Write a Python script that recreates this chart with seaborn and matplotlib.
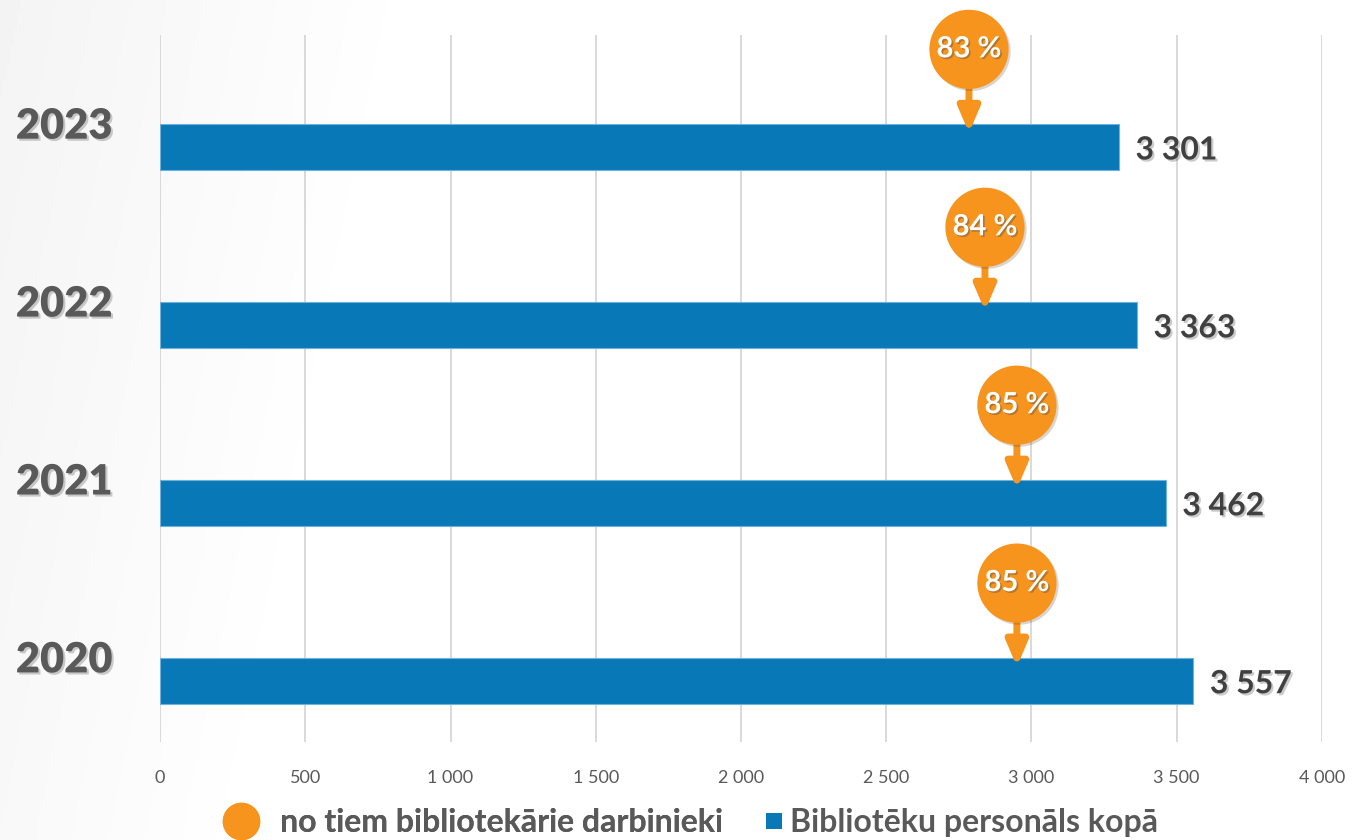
import numpy as np
import pandas as pd
import matplotlib
matplotlib.use("Agg")
import matplotlib.pyplot as plt
import matplotlib.patheffects as pe
from matplotlib.lines import Line2D
import seaborn as sns

years = ["2023", "2022", "2021", "2020"]
total_staff = [3301, 3363, 3462, 3557]
librarians = [2785, 2840, 2950, 2950]
share_labels = ["83 %", "84 %", "85 %", "85 %"]
xticks = [0, 500, 1000, 1500, 2000, 2500, 3000, 3500, 4000]

legend_dot = "no tiem bibliotekārie darbinieki"
legend_bar = "Bibliotēku personāls kopā"

BLUE = "#0878b6"
ORANGE = "#f7941d"
GREY = "#595959"
DARK = "#404040"
FONT = "Lato"

df = pd.DataFrame({"year": years, "total": total_staff})

sns.set_theme(style="white")
plt.rcParams["font.family"] = [FONT, "DejaVu Sans"]

fig = plt.figure(figsize=(13.53, 8.4), dpi=100)

# soft grey gradient background on the left
bg = fig.add_axes([0, 0, 1, 1], zorder=-5)
gx = np.linspace(0, 1, 400)
gy = np.linspace(0, 1, 200)[:, None]
grad = np.clip(0.955 + 0.045 * (gx[None, :] * 3.2 + gy * 0.4), 0, 1)
bg.imshow(grad, cmap="gray", vmin=0, vmax=1, aspect="auto", extent=[0, 1, 0, 1])
bg.axis("off")

ax = fig.add_axes([0.1183, 0.1167, 0.977 - 0.1183, 0.958 - 0.1167])
ax.patch.set_alpha(0)

sns.barplot(data=df, y="year", x="total", orient="h", order=years,
            color=BLUE, width=0.26, saturation=1, ax=ax,
            edgecolor="#6fb1da", linewidth=0.8, zorder=2)

ax.set_xlim(0, 4000)
ax.set_ylim(3.343, -0.629)
ax.set_xticks(xticks, [f"{v:,}".replace(",", " ") for v in xticks])
ax.set_yticks(np.arange(len(years)) - 0.135, years)
ax.grid(axis="x", color="#d9d9d9", lw=1.4, zorder=0)
ax.grid(axis="y", visible=False)
for s in ax.spines.values():
    s.set_visible(False)
ax.set_xlabel("")
ax.set_ylabel("")
ax.tick_params(axis="x", length=0, pad=20, labelsize=13, labelcolor=GREY)
ax.tick_params(axis="y", length=0, pad=34, labelsize=30, labelcolor=GREY)
shadow = [pe.SimplePatchShadow(offset=(1.5, -1.5), alpha=0.22), pe.Normal()]
for lab in ax.get_yticklabels():
    lab.set_fontweight("heavy")
    lab.set_path_effects(shadow)

# value labels at bar ends
for i, v in enumerate(total_staff):
    ax.annotate(f"{v:,}".replace(",", " "), xy=(v, i), xytext=(12, -2),
                textcoords="offset points", ha="left", va="center",
                fontsize=23, fontweight="bold", color=DARK,
                path_effects=shadow, zorder=6)

# librarian share bubbles with arrows
dot_y = np.arange(len(years)) - 0.55
for i, (lv, lab) in enumerate(zip(librarians, share_labels)):
    ax.annotate("", xy=(lv, i - 0.08), xytext=(lv, dot_y[i]),
                arrowprops=dict(arrowstyle="-|>,head_width=0.32,head_length=0.75",
                                color=ORANGE, lw=5, shrinkA=0, shrinkB=0,
                                mutation_scale=20),
                zorder=3)
ax.scatter(librarians, dot_y, s=3250, color=ORANGE, zorder=4, linewidths=0,
           clip_on=False,
           path_effects=[pe.SimplePatchShadow(offset=(1.5, -1.5), alpha=0.2),
                         pe.Normal()])
for i, (lv, lab) in enumerate(zip(librarians, share_labels)):
    ax.text(lv, dot_y[i], lab, ha="center", va="center", fontsize=21,
            fontweight="bold", color="white", zorder=5, clip_on=False,
            path_effects=[pe.SimplePatchShadow(offset=(1.2, -1.2), alpha=0.4),
                          pe.Normal()])

# legend: two entries laid out like the original
leg_prop = {"family": FONT, "weight": "bold", "size": 23}
dot_handle = Line2D([], [], marker="o", ls="none", markersize=27,
                    markerfacecolor=ORANGE, markeredgewidth=0)
bar_handle = Line2D([], [], marker="s", ls="none", markersize=11.5,
                    markerfacecolor=BLUE, markeredgewidth=0)
leg1 = fig.legend([dot_handle], [legend_dot], loc="center left",
                  bbox_to_anchor=(222 / 1353, 0.021), frameon=False,
                  prop=leg_prop, labelcolor=GREY, borderpad=0, borderaxespad=0,
                  handlelength=1.2, handletextpad=0.62)
fig.add_artist(leg1)
fig.legend([bar_handle], [legend_bar], loc="center left",
           bbox_to_anchor=(766 / 1353, 0.021), frameon=False,
           prop=leg_prop, labelcolor=GREY, borderpad=0, borderaxespad=0,
           handlelength=0.5, handletextpad=0.25)

fig.savefig("out.png", dpi=100)
